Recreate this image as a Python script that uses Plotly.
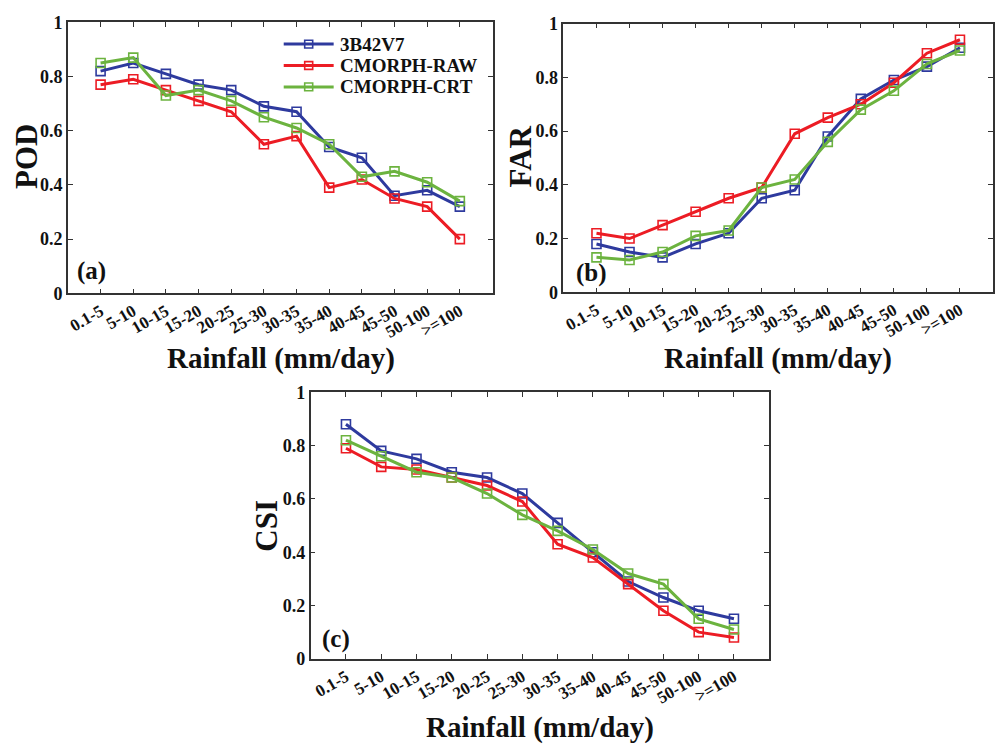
import plotly.graph_objects as go

categories = ["0.1-5", "5-10", "10-15", "15-20", "20-25", "25-30", "30-35",
              "35-40", "40-45", "45-50", "50-100", ">=100"]
series_names = ["3B42V7", "CMORPH-RAW", "CMORPH-CRT"]

pod_3b42 = [0.82, 0.85, 0.81, 0.77, 0.75, 0.69, 0.67, 0.54, 0.50, 0.36, 0.38, 0.32]
pod_raw = [0.77, 0.79, 0.75, 0.71, 0.67, 0.55, 0.58, 0.39, 0.42, 0.35, 0.32, 0.20]
pod_crt = [0.85, 0.87, 0.73, 0.75, 0.71, 0.65, 0.61, 0.55, 0.43, 0.45, 0.41, 0.34]

far_3b42 = [0.18, 0.15, 0.13, 0.18, 0.22, 0.35, 0.38, 0.58, 0.72, 0.79, 0.84, 0.91]
far_raw = [0.22, 0.20, 0.25, 0.30, 0.35, 0.39, 0.59, 0.65, 0.70, 0.78, 0.89, 0.94]
far_crt = [0.13, 0.12, 0.15, 0.21, 0.23, 0.39, 0.42, 0.56, 0.68, 0.75, 0.85, 0.90]

csi_3b42 = [0.88, 0.78, 0.75, 0.70, 0.68, 0.62, 0.51, 0.40, 0.29, 0.23, 0.18, 0.15]
csi_raw = [0.79, 0.72, 0.71, 0.68, 0.65, 0.59, 0.43, 0.38, 0.28, 0.18, 0.10, 0.08]
csi_crt = [0.82, 0.76, 0.70, 0.68, 0.62, 0.54, 0.48, 0.41, 0.32, 0.28, 0.15, 0.11]

y_ticks = [0, 0.2, 0.4, 0.6, 0.8, 1]
y_ticktext = ["0", "0.2", "0.4", "0.6", "0.8", "1"]

colors = ["#2E3A9E", "#EC1C24", "#6CB33F"]
FONT = "Liberation Serif"
W, H = 996, 753

xpos = list(range(1, len(categories) + 1))

panels = [
    dict(data=[pod_3b42, pod_raw, pod_crt], xa="x", ya="y",
         dom_x=[67 / W, 492 / W], dom_y=[1 - 291 / H, 1 - 12.7 / H],
         ytitle="POD", label="(a)"),
    dict(data=[far_3b42, far_raw, far_crt], xa="x2", ya="y2",
         dom_x=[563 / W, 993 / W], dom_y=[1 - 290 / H, 1 - 14 / H],
         ytitle="FAR", label="(b)"),
    dict(data=[csi_3b42, csi_raw, csi_crt], xa="x3", ya="y3",
         dom_x=[310 / W, 769 / W], dom_y=[1 - 666.5 / H, 1 - 392.7 / H],
         ytitle="CSI", label="(c)"),
]

fig = go.Figure()
for pi, p in enumerate(panels):
    for si, vals in enumerate(p["data"]):
        fig.add_trace(go.Scatter(
            x=xpos, y=vals, mode="lines+markers",
            name=series_names[si], showlegend=False,
            line=dict(color=colors[si], width=3),
            marker=dict(symbol="square-open", size=9, color=colors[si],
                        line=dict(width=1.6, color=colors[si])),
            xaxis=p["xa"], yaxis=p["ya"],
        ))

axis_common_x = dict(
    range=[0, 13], tickmode="array", tickvals=xpos, ticktext=categories,
    tickangle=-30, ticks="inside", ticklen=5, tickwidth=1.2, tickcolor="#333",
    showline=True, linecolor="#333", linewidth=1.5, mirror="ticks",
    showgrid=False, zeroline=False,
    tickfont=dict(family=FONT, size=17, color="#111", weight="bold"),
)
axis_common_y = dict(
    range=[0, 1], tickmode="array", tickvals=y_ticks, ticktext=y_ticktext,
    ticks="inside", ticklen=5, tickwidth=1.2, tickcolor="#333",
    showline=True, linecolor="#333", linewidth=1.5, mirror="ticks",
    showgrid=False, zeroline=False,
    tickfont=dict(family=FONT, size=18, color="#111", weight="bold"),
)

layout = dict(
    width=W, height=H, margin=dict(l=0, r=0, t=0, b=0),
    paper_bgcolor="white", plot_bgcolor="white", showlegend=False,
)
for i, p in enumerate(panels):
    sfx = "" if i == 0 else str(i + 1)
    xa = dict(axis_common_x, domain=p["dom_x"], anchor="y" + sfx)
    ya = dict(axis_common_y, domain=p["dom_y"], anchor="x" + sfx)
    layout["xaxis" + sfx] = xa
    layout["yaxis" + sfx] = ya
fig.update_layout(**layout)

# axis titles and panel labels
ann = []
shapes = []
ytitle_pos = [(25, 150), (520, 150), (266, 530)]
xtitle_pos = [(280, 358), (778, 358), (540, 737)]
label_pos = [(91, 268), (591, 270), (335, 646)]
for p, (yx, yy), (xx, xy), (lx, ly) in zip(panels, ytitle_pos, xtitle_pos, label_pos):
    ann.append(dict(text=p["ytitle"], x=yx / W, y=1 - yy / H, xref="paper", yref="paper",
                    showarrow=False, textangle=-90, xanchor="center", yanchor="middle",
                    font=dict(family=FONT, size=31, color="#111", weight="bold")))
    ann.append(dict(text="Rainfall (mm/day)", x=xx / W, y=1 - xy / H, xref="paper", yref="paper",
                    showarrow=False, xanchor="center", yanchor="middle",
                    font=dict(family=FONT, size=29, color="#111", weight="bold")))
    ann.append(dict(text=p["label"], x=lx / W, y=1 - ly / H, xref="paper", yref="paper",
                    showarrow=False, xanchor="center", yanchor="middle",
                    font=dict(family=FONT, size=25, color="#111", weight="bold")))

# legend (drawn inside panel a, top right)
leg_rows = [35, 57, 79]
for si, ry in enumerate(leg_rows):
    yp = 1 - ry / H
    shapes.append(dict(type="line", xref="paper", yref="paper",
                       x0=283 / W, x1=333 / W, y0=yp, y1=yp,
                       line=dict(color=colors[si], width=3)))
    shapes.append(dict(type="rect", xref="paper", yref="paper",
                       x0=304 / W, x1=312 / W, y0=1 - (ry + 4) / H, y1=1 - (ry - 4) / H,
                       line=dict(color=colors[si], width=1.6), fillcolor="rgba(0,0,0,0)"))
    ann.append(dict(text=series_names[si], x=337 / W, y=yp, xref="paper", yref="paper",
                    showarrow=False, xanchor="left", yanchor="middle",
                    font=dict(family=FONT, size=19, color="#111", weight="bold")))

fig.update_layout(annotations=ann, shapes=shapes)

fig.write_html("out.html")
